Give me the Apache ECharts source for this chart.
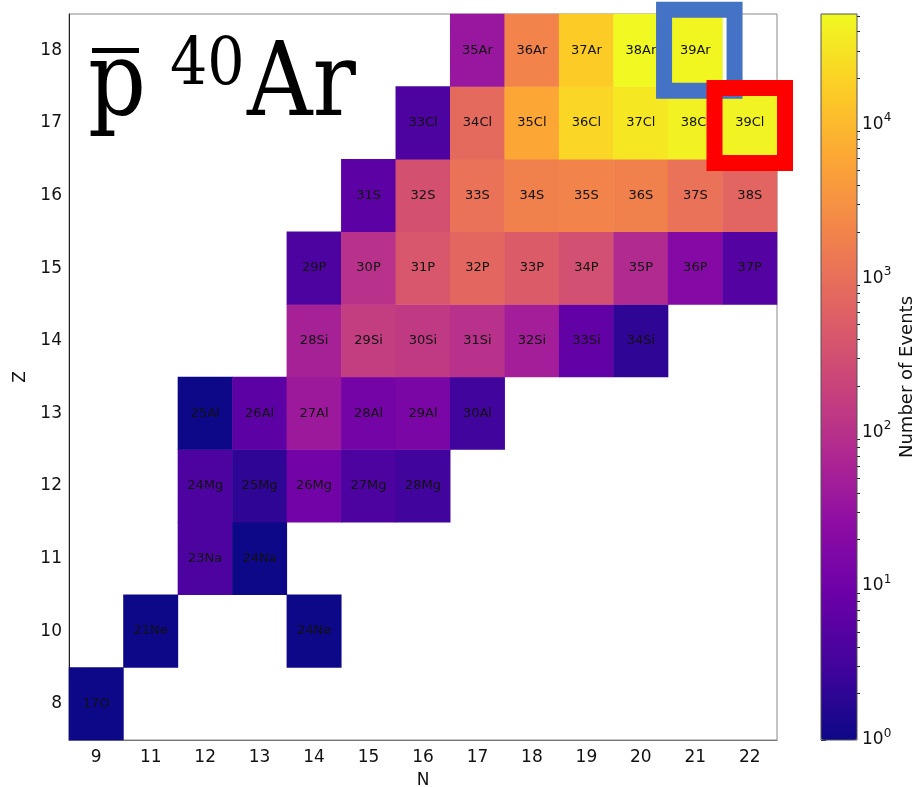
<!DOCTYPE html>
<html><head><meta charset="utf-8">
<script src="https://cdn.jsdelivr.net/npm/echarts@6/dist/echarts.min.js"></script>
<style>html,body{margin:0;padding:0;background:#fff}#c{width:915px;height:787px}</style>
</head><body><div id="c"></div>
<script>
// ---- data ----
const nCategories = ['9','11','12','13','14','15','16','17','18','19','20','21','22'];
const zCategories = ['8','10','11','12','13','14','15','16','17','18'];
const nuclideNames = ['17O','21Ne','24Ne','23Na','24Na','24Mg','25Mg','26Mg','27Mg','28Mg',
  '25Al','26Al','27Al','28Al','29Al','30Al',
  '28Si','29Si','30Si','31Si','32Si','33Si','34Si',
  '29P','30P','31P','32P','33P','34P','35P','36P','37P',
  '31S','32S','33S','34S','35S','36S','37S','38S',
  '33Cl','34Cl','35Cl','36Cl','37Cl','38Cl','39Cl',
  '35Ar','36Ar','37Ar','38Ar','39Ar'];
const nuclideN = [9,11,14,12,13,12,13,14,15,16,
  12,13,14,15,16,17,
  14,15,16,17,18,19,20,
  14,15,16,17,18,19,20,21,22,
  15,16,17,18,19,20,21,22,
  16,17,18,19,20,21,22,
  17,18,19,20,21];
const nuclideZ = [8,10,10,11,11,12,12,12,12,12,
  13,13,13,13,13,13,
  14,14,14,14,14,14,14,
  15,15,15,15,15,15,15,15,15,
  16,16,16,16,16,16,16,16,
  17,17,17,17,17,17,17,
  18,18,18,18,18];
const eventCounts = [1,1,1,4,1,4,2,11,4,3,
  1,6,40,12,14,3,
  55,160,140,100,50,7,2,
  4,100,420,760,490,316,77,19,5,
  6,320,1100,1800,2000,1800,1100,700,
  4,840,5900,22000,34000,42000,45000,
  36,2000,16000,52000,48000];
const colorbarMax = 52000;
const colorbarMajorExponents = [0,1,2,3,4];
const highlightedNuclides = ['39Ar','39Cl'];

// ---- chart ----
const plasma = ['#0d0887','#41049d','#6a00a8','#8f0da4','#b12a90','#cc4778','#e16462','#f2844b','#fca636','#fcce25','#f0f921'];
const logMax = Math.log10(colorbarMax);
const heatData = nuclideNames.map((nm, i) => [
  nCategories.indexOf(String(nuclideN[i])),
  zCategories.indexOf(String(nuclideZ[i])),
  Math.log10(eventCounts[i]),
  nm
]);
const minorTicks = [];
for (let e = 0; e <= 4; e++) for (let k = 2; k <= 9; k++) {
  const v = Math.log10(k) + e; if (v <= logMax) minorTicks.push(v);
}
const FONT = 'DejaVu Sans';
const chart = echarts.init(document.getElementById('c'), null, {renderer: 'canvas'});
chart.setOption({
  animation: false,
  textStyle: {fontFamily: FONT},
  grid: [
    {left: 69, right: 138, top: 14, bottom: 47, show: true, borderColor: '#888', borderWidth: 1, backgroundColor: 'transparent', outerBoundsMode: 'none', containLabel: false},
    {left: 821, top: 14, width: 36, height: 726, show: true, borderColor: '#555', borderWidth: 1, backgroundColor: 'transparent', z: 10, outerBoundsMode: 'none', containLabel: false}
  ],
  xAxis: [
    {type: 'category', data: nCategories, gridIndex: 0,
     axisLine: {lineStyle: {color: '#777'}},
     axisTick: {alignWithLabel: true, length: 4, lineStyle: {color: '#777'}},
     axisLabel: {fontSize: 17, color: '#111', margin: 9},
     splitLine: {show: false},
     name: 'N', nameLocation: 'middle', nameGap: 32, nameTextStyle: {fontSize: 17, color: '#111'}},
    {type: 'value', gridIndex: 1, show: false, min: 0, max: 1}
  ],
  yAxis: [
    {type: 'category', data: zCategories, gridIndex: 0,
     axisLine: {lineStyle: {color: '#222'}},
     axisTick: {alignWithLabel: true, length: 4, lineStyle: {color: '#222'}},
     axisLabel: {fontSize: 17, color: '#111', margin: 7},
     splitLine: {show: false},
     name: 'Z', nameLocation: 'middle', nameGap: 36, nameRotate: 90, nameTextStyle: {fontSize: 17, color: '#111'}},
    {type: 'value', gridIndex: 1, position: 'right', min: 0, max: logMax,
     axisLine: {show: false}, splitLine: {show: false},
     axisTick: {show: true, length: 5, customValues: colorbarMajorExponents, lineStyle: {color: '#222'}},
     axisLabel: {show: true, margin: 5, customValues: colorbarMajorExponents,
       formatter: v => '{b|10}{e|' + v + '}',
       rich: {b: {fontSize: 17, color: '#111', lineHeight: 24}, e: {fontSize: 12, color: '#111', verticalAlign: 'top', lineHeight: 13}}},
     name: 'Number of Events', nameLocation: 'middle', nameRotate: 90, nameGap: 41,
     nameTextStyle: {fontSize: 18, color: '#111'}},
    {type: 'value', gridIndex: 1, position: 'right', min: 0, max: logMax,
     axisLine: {show: false}, splitLine: {show: false},
     axisTick: {show: true, length: 3, customValues: minorTicks, lineStyle: {color: '#222'}},
     axisLabel: {show: false}}
  ],
  visualMap: {
    type: 'continuous', min: 0, max: logMax, dimension: 2, seriesIndex: 0,
    show: true, calculable: false, hoverLink: false, orient: 'vertical',
    left: 821, top: 14, itemWidth: 36, itemHeight: 726, padding: 0,
    text: null, inRange: {color: plasma}
  },
  series: [{
    type: 'heatmap', xAxisIndex: 0, yAxisIndex: 0, data: heatData,
    label: {show: true, formatter: p => p.data[3], color: '#111', fontSize: 13, fontFamily: FONT},
    emphasis: {disabled: true},
    itemStyle: {borderWidth: 0}
  }]
});

// annotations: title and highlight boxes
const g = [];
const titleFont = '"DejaVu Serif"';
g.push({type: 'text', z: 100, x: 88, y: 88, scaleX: 0.89, style: {text: 'p', x: 0, y: 0, font: 'normal 102px ' + titleFont, fill: '#000', align: 'left', verticalAlign: 'middle'}});
g.push({type: 'rect', z: 100, shape: {x: 92, y: 48, width: 47, height: 5}, style: {fill: '#000'}});
g.push({type: 'text', z: 100, x: 170, y: 66.5, scaleX: 0.89, style: {text: '40', x: 0, y: 0, font: 'normal 66px ' + titleFont, fill: '#000', align: 'left', verticalAlign: 'middle'}});
g.push({type: 'text', z: 100, x: 247, y: 88, scaleX: 0.89, style: {text: 'Ar', x: 0, y: 0, font: 'normal 102px ' + titleFont, fill: '#000', align: 'left', verticalAlign: 'middle'}});
const boxStyles = [
  {color: '#4472c4', dx: 4, dy: 0, w: 70.5, h: 81},
  {color: '#ff0000', dx: 0, dy: 2.6, w: 70.5, h: 75}
];
highlightedNuclides.forEach((nm, i) => {
  const idx = nuclideNames.indexOf(nm);
  const c = chart.convertToPixel({gridIndex: 0}, [String(nuclideN[idx]), String(nuclideZ[idx])]);
  const s = boxStyles[i];
  g.push({type: 'rect', z: 110 + i,
    shape: {x: c[0] + s.dx - s.w / 2, y: c[1] + s.dy - s.h / 2, width: s.w, height: s.h},
    style: {fill: 'none', stroke: s.color, lineWidth: 16}});
});
chart.setOption({graphic: g});
</script>
</body></html>
